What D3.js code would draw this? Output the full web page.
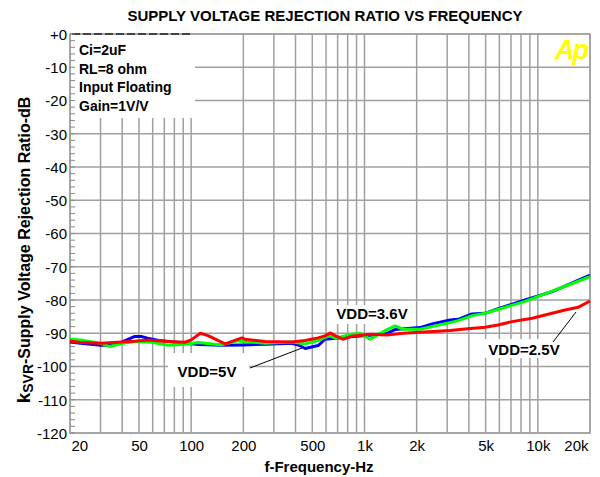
<!DOCTYPE html>
<html>
<head>
<meta charset="utf-8">
<script src="https://cdn.jsdelivr.net/npm/d3@7/dist/d3.min.js"></script>
<style>
  body { margin: 0; background: #fff; }
  svg text { font-family: "Liberation Sans", Arial, sans-serif; fill: #000; }
</style>
</head>
<body>
<svg id="chart" width="600" height="477"></svg>
<script>
// data
var xTickValues = [20, 50, 100, 200, 500, 1000, 2000, 5000, 10000, 20000];
var xTickLabels = ["20", "50", "100", "200", "500", "1k", "2k", "5k", "10k", "20k"];
var yTickValues = [0, -10, -20, -30, -40, -50, -60, -70, -80, -90, -100, -110, -120];
var yTickLabels = ["+0", "-10", "-20", "-30", "-40", "-50", "-60", "-70", "-80", "-90", "-100", "-110", "-120"];
var notes = ["Ci=2uF", "RL=8 ohm", "Input Floating", "Gain=1V/V"];

var vdd5 = [[20,-92.6],[23,-93],[30,-93.6],[35,-93.6],[40,-92.6],[47,-91],[52,-91],[56,-91.5],[65,-92.2],[74,-92.5],[92,-92.9],[110,-93.4],[150,-93.6],[200,-93.5],[270,-93.3],[380,-93],[420,-93.6],[455,-94.6],[540,-93.7],[592,-91.8],[680,-91.5],[860,-91],[1080,-90.6],[1350,-90],[1500,-88.9],[2090,-88.3],[2490,-87.1],[3120,-86],[3470,-85.8],[4170,-84.2],[4960,-84],[5900,-82.6],[8440,-80],[12100,-77.5],[20000,-72.5]];
var vdd36 = [[20,-91.8],[23,-92],[30,-93],[34,-94],[39,-93.2],[47,-92.5],[59,-92.7],[74,-93.6],[92,-93.3],[110,-92.8],[150,-93.5],[186,-92.3],[205,-92.5],[267,-93],[380,-92.6],[455,-93.2],[540,-92.2],[592,-91.2],[633,-90.8],[680,-91.5],[860,-90.2],[943,-90],[1077,-91.8],[1349,-88.9],[1500,-87.8],[1669,-88.8],[2092,-88.8],[3118,-86.8],[3467,-86.2],[4175,-84.7],[4963,-84],[8444,-80.4],[20000,-73]];
var vdd25 = [[20,-92.3],[23,-92.8],[30,-93],[47,-92.4],[56,-92],[74,-92.5],[92,-92.7],[100,-92],[113,-90],[125,-90.7],[157,-93.2],[196,-91.4],[205,-91.8],[267,-92.5],[382,-92.6],[454,-92.2],[540,-91.4],[592,-90.8],[633,-89.9],[680,-90.8],[750,-91.8],[860,-90.8],[1077,-90.3],[1349,-90.5],[1669,-90],[2092,-89.7],[3118,-89.2],[3800,-88.7],[4963,-88.2],[5901,-87.5],[7098,-86.5],[9282,-85.5],[11015,-84.5],[14369,-83],[17080,-82.2],[20000,-80.3]];

var svg = d3.select("#chart");
var pLeft = 70, pRight = 590, pTop = 34, pBottom = 433;

var x = d3.scaleLog().domain([20, 20000]).range([pLeft, pRight]);
var y = d3.scaleLinear().domain([-120, 0]).range([pBottom, pTop]);

var grid = "#a0a0a0";

// gridlines
svg.append("g").selectAll("line").data(x.ticks()).enter().append("line")
  .attr("x1", function(d) { return x(d); }).attr("x2", function(d) { return x(d); })
  .attr("y1", pTop).attr("y2", pBottom)
  .attr("stroke", grid).attr("stroke-width", 1.5);
svg.append("g").selectAll("line").data(yTickValues).enter().append("line")
  .attr("x1", pLeft).attr("x2", pRight)
  .attr("y1", function(d) { return y(d); }).attr("y2", function(d) { return y(d); })
  .attr("stroke", grid).attr("stroke-width", 1.5);

// white boxes behind the notes
svg.append("rect").attr("x", pLeft + 1).attr("y", pTop + 1).attr("width", 124).attr("height", 83).attr("fill", "#fff");
svg.append("rect").attr("x", 168).attr("y", 353).attr("width", 81).attr("height", 34).attr("fill", "#fff");
svg.append("rect").attr("x", 333).attr("y", 305).attr("width", 77).attr("height", 19).attr("fill", "#fff");
svg.append("rect").attr("x", 483).attr("y", 339).attr("width", 80).attr("height", 19).attr("fill", "#fff");

// frame
svg.append("rect").attr("x", pLeft).attr("y", pTop).attr("width", pRight - pLeft).attr("height", pBottom - pTop)
  .attr("fill", "none").attr("stroke", grid).attr("stroke-width", 1.5);
svg.append("line").attr("x1", pLeft + 2).attr("x2", 190).attr("y1", pTop).attr("y2", pTop)
  .attr("stroke", "#222").attr("stroke-width", 1.5).attr("stroke-dasharray", "8,3");

// minor ticks on y axis
svg.append("g").selectAll("line").data(d3.range(-120, 1, 2)).enter().append("line")
  .attr("x1", pLeft).attr("x2", pLeft + 5)
  .attr("y1", function(d) { return y(d); }).attr("y2", function(d) { return y(d); })
  .attr("stroke", "#888").attr("stroke-width", 1);

// axes (labels only)
var xAxis = d3.axisBottom(x).tickValues(xTickValues).tickSize(0)
  .tickFormat(function(d, i) { return xTickLabels[i]; });
var gx = svg.append("g").attr("transform", "translate(0," + pBottom + ")").call(xAxis);
gx.select(".domain").remove();
gx.selectAll("text").attr("font-size", 15).attr("dy", 0).attr("y", 18)
  .attr("fill", "#000").attr("font-family", "Liberation Sans, Arial, sans-serif")
  .attr("text-anchor", function(d) { return d == 20 ? "start" : (d == 20000 ? "end" : "middle"); })
  .attr("dx", function(d) { return d == 20 ? 1 : (d == 20000 ? -2 : 0); });

var yAxis = d3.axisLeft(y).tickValues(yTickValues).tickSize(0)
  .tickFormat(function(d, i) { return yTickLabels[i]; });
var gy = svg.append("g").attr("transform", "translate(" + (pLeft - 3) + ",0)").call(yAxis);
gy.select(".domain").remove();
gy.selectAll("text").attr("font-size", 15).attr("x", 0).attr("dy", "0.35em")
  .attr("fill", "#000").attr("font-family", "Liberation Sans, Arial, sans-serif");

// curves
var line = d3.line().x(function(d) { return x(d[0]); }).y(function(d) { return y(d[1]); });
[[vdd5, "#0000ff"], [vdd36, "#00ff00"], [vdd25, "#ff0000"]].forEach(function(s) {
  svg.append("path").datum(s[0]).attr("d", line)
    .attr("fill", "none").attr("stroke", s[1]).attr("stroke-width", 3).attr("stroke-linejoin", "round");
});

// title
svg.append("text").attr("x", 325).attr("y", 21).attr("text-anchor", "middle")
  .attr("font-size", 15).attr("font-weight", "bold").text("SUPPLY VOLTAGE REJECTION RATIO VS FREQUENCY");

// notes
svg.append("g").selectAll("text").data(notes).enter().append("text")
  .attr("x", 79).attr("y", function(d, i) { return 55 + i * 18.7; })
  .attr("font-size", 14).attr("font-weight", "bold").text(function(d) { return d; });

// Ap logo
svg.append("text").attr("x", 571).attr("y", 59).attr("text-anchor", "middle")
  .attr("font-size", 27).attr("font-weight", "bold").attr("font-style", "italic")
  .style("fill", "#ffff00").attr("letter-spacing", -2).text("Ap");

// series labels
svg.append("text").attr("x", 207).attr("y", 377).attr("text-anchor", "middle")
  .attr("font-size", 15).attr("font-weight", "bold").text("VDD=5V");
svg.append("text").attr("x", 372).attr("y", 319).attr("text-anchor", "middle")
  .attr("font-size", 15).attr("font-weight", "bold").text("VDD=3.6V");
svg.append("text").attr("x", 524).attr("y", 355).attr("text-anchor", "middle")
  .attr("font-size", 15).attr("font-weight", "bold").text("VDD=2.5V");

svg.append("line").attr("x1", 250).attr("y1", 368).attr("x2", 302).attr("y2", 348)
  .attr("stroke", "#000").attr("stroke-width", 1);
svg.append("line").attr("x1", 553).attr("y1", 342).attr("x2", 576).attr("y2", 312)
  .attr("stroke", "#000").attr("stroke-width", 1);

// axis titles
svg.append("text").attr("x", 319).attr("y", 472).attr("text-anchor", "middle")
  .attr("font-size", 15).attr("font-weight", "bold").text("f-Frequency-Hz");

var yt = svg.append("text").attr("transform", "translate(30,250) rotate(-90)")
  .attr("text-anchor", "middle").attr("font-size", 16).attr("font-weight", "bold");
yt.append("tspan").attr("font-size", 19).text("k");
yt.append("tspan").attr("font-size", 14).attr("dy", 3).text("SVR");
yt.append("tspan").attr("dy", -3).text("-Supply Voltage Rejection Ratio-dB");
</script>
</body>
</html>
